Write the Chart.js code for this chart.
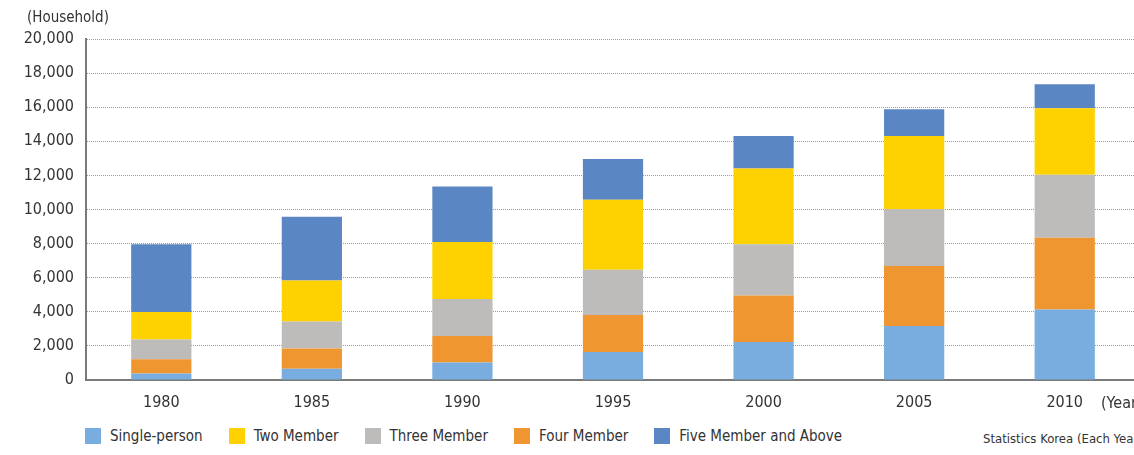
<!DOCTYPE html>
<html>
<head>
<meta charset="utf-8">
<script src="https://cdn.jsdelivr.net/npm/chart.js@4/dist/chart.umd.min.js"></script>
<style>
  html, body { margin: 0; padding: 0; background: #fff; overflow: hidden; }
  body { width: 1134px; height: 455px; position: relative;
         font-family: "DejaVu Sans Condensed", "Liberation Sans Narrow", Roboto, sans-serif; color: #333; }
  #wrap { position: absolute; left: 0; top: 0; width: 1150px; height: 420px; }
  .note { position: absolute; white-space: nowrap; font-size: 15px; line-height: 1; }
  #legend { position: absolute; left: 85px; top: 428px; display: flex; white-space: nowrap; }
  #legend .item { display: flex; align-items: center; margin-right: 26px; font-size: 15px; line-height: 16px; }
  #legend .box { width: 16px; height: 16px; margin-right: 9px; }
</style>
</head>
<body>
<div id="wrap"><canvas id="households" width="1150" height="420"></canvas></div>
<div class="note" style="left:27px; top:10px;">(Household)</div>
<div class="note" style="left:1101px; top:395px; font-size:16px;">(Year)</div>
<div class="note" style="left:983px; top:432px; font-size:13px;">Statistics Korea (Each Year)</div>
<div id="legend"></div>

<script>
  "use strict";

  // households by size, thousands
  var years = ['1980', '1985', '1990', '1995', '2000', '2005', '2010'];
  var singlePerson = [383, 661, 1021, 1642, 2224, 3171, 4142];
  var fourMember = [837, 1189, 1566, 2173, 2731, 3521, 4205];
  var threeMember = [1153, 1578, 2163, 2649, 3002, 3325, 3696];
  var twoMember = [1615, 2404, 3350, 4101, 4447, 4289, 3898];
  var fiveMember = [3981, 3739, 3255, 2394, 1908, 1581, 1398];
  var yTicks = [0, 2000, 4000, 6000, 8000, 10000, 12000, 14000, 16000, 18000, 20000];

  // stacking order, bottom to top
  var series = [
    { label: 'Single-person', data: singlePerson, color: '#79addf' },
    { label: 'Four Member', data: fourMember, color: '#ef9631' },
    { label: 'Three Member', data: threeMember, color: '#bdbcba' },
    { label: 'Two Member', data: twoMember, color: '#fdd200' },
    { label: 'Five Member and Above', data: fiveMember, color: '#5a86c4' }
  ];
  var legendOrder = ['Single-person', 'Two Member', 'Three Member', 'Four Member', 'Five Member and Above'];

  var font = { family: '"DejaVu Sans Condensed", "Liberation Sans Narrow", Roboto, sans-serif', size: 16 };

  new Chart("households", {
    type: "bar",
    data: {
      labels: years,
      datasets: series.map(function(s) {
        return {
          label: s.label,
          data: s.data,
          backgroundColor: s.color,
          borderWidth: 0,
          categoryPercentage: 1,
          barPercentage: 0.4
        };
      })
    },
    options: {
      responsive: false,
      animation: false,
      layout: { padding: { top: 39, right: 10, left: 0, bottom: 0 } },
      plugins: {
        legend: { display: false },
        tooltip: { enabled: false }
      },
      scales: {
        x: {
          stacked: true,
          grid: { display: false, drawTicks: false },
          border: { display: true, color: '#7a7a7a', width: 2 },
          ticks: { color: '#333', font: font, padding: 13, maxRotation: 0 },
          afterFit: function(scale) { scale.height = 40; }
        },
        y: {
          stacked: true,
          min: 0,
          max: 20000,
          afterBuildTicks: function(scale) {
            scale.ticks = yTicks.map(function(v) { return { value: v }; });
          },
          grid: { color: '#9a9a9a', lineWidth: 1, drawTicks: false },
          // in v4 border.dash dashes the grid lines, the axis line stays solid
          border: { display: true, color: '#7a7a7a', width: 2, dash: [1, 1] },
          ticks: {
            color: '#333',
            font: font,
            padding: 12,
            callback: function(v) { return Number(v).toLocaleString('en-US'); }
          },
          afterFit: function(scale) { scale.width = 86; }
        }
      }
    }
  });

  // legend in the source order
  var legend = document.getElementById('legend');
  legendOrder.forEach(function(name) {
    var s = series.filter(function(d) { return d.label === name; })[0];
    var item = document.createElement('div');
    item.className = 'item';
    item.innerHTML = '<span class="box" style="background:' + s.color + '"></span>' + s.label;
    legend.appendChild(item);
  });
</script>
</body>
</html>
